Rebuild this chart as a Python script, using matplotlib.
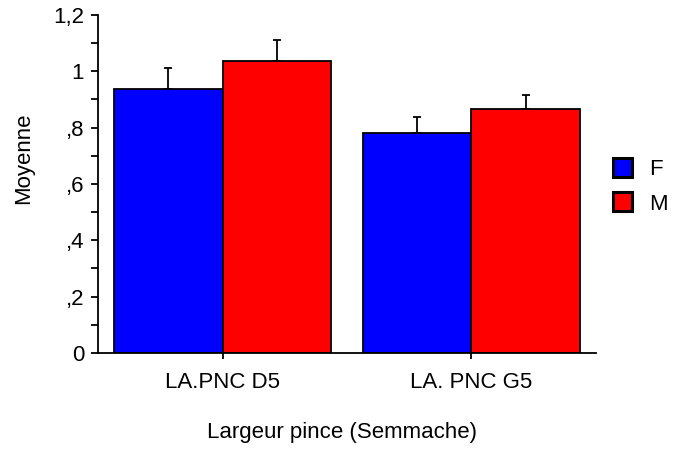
import numpy as np
import matplotlib.pyplot as plt
from matplotlib.patches import Patch

plt.rcParams['font.family'] = ['Liberation Sans', 'DejaVu Sans']

# mean widths by sex, with upper error bars
groupes = ["LA.PNC D5", "LA. PNC G5"]
sexes = ["F", "M"]
moy_f = [0.937, 0.781]
moy_m = [1.037, 0.866]
err_f = [0.075, 0.057]
err_m = [0.074, 0.050]
couleurs = ["#0000ff", "#ff0000"]

fig = plt.figure(figsize=(6.81, 4.53), dpi=100)
ax = fig.add_axes([0.144, 0.221, 0.731, 0.746])

x = np.arange(len(groupes))
w = 0.436
for i, (moy, err) in enumerate([(moy_f, err_f), (moy_m, err_m)]):
    pos = x - w / 2 + i * w
    ax.bar(pos, moy, width=w, color=couleurs[i], edgecolor="black", linewidth=1.3, zorder=2)
    ax.errorbar(pos, moy, yerr=[np.zeros(len(moy)), err], fmt="none",
                ecolor="black", elinewidth=1.3, capsize=2.8, capthick=1.3, zorder=1)

ax.set_xlim(-0.5, 1.5)
ax.set_ylim(0, 1.2)
ax.set_xticks(x)
ax.set_xticklabels(groupes, fontsize=16)
ax.set_yticks([0, 0.2, 0.4, 0.6, 0.8, 1.0, 1.2])
ax.set_yticklabels(["0", ",2", ",4", ",6", ",8", "1", "1,2"], fontsize=16)
ax.set_yticks(np.arange(0.1, 1.2, 0.2), minor=True)
ax.tick_params(axis="y", which="both", direction="out", length=5, width=1.3, pad=5)
ax.tick_params(axis="x", direction="out", length=4, width=1.3, pad=10)
for s in ["top", "right"]:
    ax.spines[s].set_visible(False)
for s in ["left", "bottom"]:
    ax.spines[s].set_linewidth(1.3)

ax.set_ylabel("Moyenne", fontsize=16, va="center")
ax.yaxis.set_label_coords(-0.149, 0.575)
ax.set_xlabel("Largeur pince (Semmache)", fontsize=16, va="center")
ax.xaxis.set_label_coords(0.491, -0.236)

handles = [Patch(facecolor=c, edgecolor="black", linewidth=2.2) for c in couleurs]
fig.legend(handles, sexes, loc="center left", bbox_to_anchor=(0.871, 0.589), frameon=False,
           fontsize=16, handlelength=0.86, handleheight=0.95, handletextpad=0.75,
           labelspacing=0.55)

fig.savefig("out.png", dpi=100)
